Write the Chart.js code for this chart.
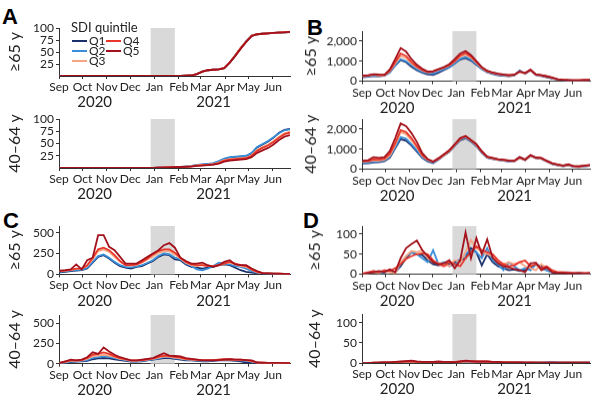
<!DOCTYPE html>
<html>
<head>
<meta charset="utf-8">
<script src="https://cdn.jsdelivr.net/npm/chart.js@4.4.1/dist/chart.umd.min.js"></script>
<style>
  body { margin:0; width:600px; height:401px; position:relative; overflow:hidden; background:#fff; font-family:Lato, sans-serif; color:#222; }
  .sub { position:absolute; }
  .letter { position:absolute; font:bold 22px "Liberation Sans", Arial, sans-serif; line-height:22px; color:#000; }
</style>
</head>
<body>
<div class="letter" style="left:2px;top:6px">A</div>
<div class="letter" style="left:307px;top:17px">B</div>
<div class="letter" style="left:3px;top:210px">C</div>
<div class="letter" style="left:303px;top:210px">D</div>
<script>
// weekly points
const weeks = ['2020-09-02','2020-09-09','2020-09-16','2020-09-23','2020-09-30','2020-10-07','2020-10-14','2020-10-21','2020-10-28',
  '2020-11-04','2020-11-11','2020-11-18','2020-11-25','2020-12-02','2020-12-09','2020-12-16','2020-12-23','2020-12-30',
  '2021-01-06','2021-01-13','2021-01-20','2021-01-27','2021-02-03','2021-02-10','2021-02-17','2021-02-24',
  '2021-03-03','2021-03-10','2021-03-17','2021-03-24','2021-03-31','2021-04-07','2021-04-14','2021-04-21','2021-04-28',
  '2021-05-05','2021-05-12','2021-05-19','2021-05-26','2021-06-02','2021-06-09','2021-06-16','2021-06-23'];
const monthStarts = ['2020-09-01','2020-10-01','2020-11-01','2020-12-01','2021-01-01','2021-02-01','2021-03-01','2021-04-01','2021-05-01','2021-06-01'];
const monthLabels = ['Sep','Oct','Nov','Dec','Jan','Feb','Mar','Apr','May','Jun'];
const yearLabels = ['2020','2021'];
const shadeFrom = '2020-12-27', shadeTo = '2021-01-27', axisEnd = '2021-06-23';
const quintiles = ['Q1','Q2','Q3','Q4','Q5'];
const legendTitle = 'SDI quintile';
const colors = ['#1b2f6b','#3b8fd8','#f6a584','#e8372a','#a3121c'];

const ticksA = [25,50,75,100];
const ticksB = [0,1000,2000];
const ticksC = [0,250,500];
const ticksD = [0,50,100];

// A, >=65 y
const A65_Q1 = [0,0,0,0,0,0,0,0,0,0, 0,0,0,0,0,0,0,0,0,0, 0,0,0, 0.5,1,4,9,12,13,14,17,28,42,58,72,84,87,88,89,90,90.5,91,91.5];
const A65_Q2 = [0,0,0,0,0,0,0,0,0,0, 0,0,0,0,0,0,0,0,0,0, 0,0,0, 0.5,1,4,9,12,13,14,17,28,43,58,72,84,87,88,89,90,90.5,91,91.5];
const A65_Q3 = [0,0,0,0,0,0,0,0,0,0, 0,0,0,0,0,0,0,0,0,0, 0,0,0, 0.5,1,4,8.5,12,13,14,17,29,43,59,72,84,87,88,89,90,90.5,91,91.5];
const A65_Q4 = [0,0,0,0,0,0,0,0,0,0, 0,0,0,0,0,0,0,0,0,0, 0,0,0, 0.5,1,4,9,12,13,14,17,28,42,57,71,84,87,88,89,90,91,91.5,92];
const A65_Q5 = [0,0,0,0,0,0,0,0,0,0, 0,0,0,0,0,0,0,0,0,0, 0,0,0, 0.5,1,4,9,12,13,14,16,28,42,57,71,83,87,88,89,90,90.5,91,92];
// A, 40-64 y
const A40_Q1 = [0,0,0,0,0,0,0,0,0,0, 0,0,0,0,0,0,0,0, 0.5,1,1.5,2,2.5,3,4,6,7,8,9,13,18,21,22,23,24,30,42,48,54,62,72,78,80];
const A40_Q2 = [0,0,0,0,0,0,0,0,0,0, 0,0,0,0,0,0,0,0, 0.5,1,1.5,2,2.5,3.5,4.5,6.5,7.5,8.5,10,14,19,22,23,24,25,31,43,49,55,63,71,77,79];
const A40_Q3 = [0,0,0,0,0,0,0,0,0,0, 0,0,0,0,0,0,0,0, 0.5,1,1.5,2,2.5,3,4,5.5,6.5,7,8,11,16,18,19,20,21,26,37,43,48,55,64,71,74];
const A40_Q4 = [0,0,0,0,0,0,0,0,0,0, 0,0,0,0,0,0,0,0, 0.5,1,1.5,2,2.5,3,3.5,5,6,6.5,7.5,10,15,17,18,19,20,25,35,41,46,53,62,69,72];
const A40_Q5 = [0,0,0,0,0,0,0,0,0,0, 0,0,0,0,0,0,0,0, 0.5,0.5,1,1.5,2,2.5,3,4.5,5,6,7,9,13,15,16,17,18,22,31,36,41,48,57,64,67];

// B, >=65 y
const B65_Q1 = [200,220,260,250,270,440,780,1050,950,720,540,420,330,310,420,560,680,880,1080,1150,1030,820,600,440,360,300,270,250,280,520,370,540,310,260,200,130,80,50,40,30,30,40,50];
const B65_Q2 = [220,240,280,260,280,450,800,1100,1000,800,600,460,400,380,480,600,700,900,1120,1200,1080,850,620,460,380,320,290,270,300,520,380,550,320,280,220,150,90,60,45,35,35,45,55];
const B65_Q3 = [250,270,320,290,300,500,880,1250,1150,880,680,530,440,470,570,660,780,980,1220,1320,1180,920,660,490,410,350,310,290,310,460,390,540,320,290,230,160,100,70,50,40,40,50,60];
const B65_Q4 = [250,280,330,300,300,520,950,1380,1250,950,720,560,450,480,580,680,800,1000,1280,1400,1230,950,680,500,420,360,320,300,320,470,400,560,330,300,240,170,100,70,50,40,40,50,60];
const B65_Q5 = [280,300,350,330,320,580,1100,1650,1480,1100,820,620,480,500,600,700,850,1100,1380,1500,1300,1000,700,520,430,370,330,300,320,480,400,570,330,300,240,180,100,70,50,40,40,50,60];
// B, 40-64 y
const B40_Q1 = [280,300,340,350,400,580,1050,1500,1420,1180,880,560,380,300,480,680,870,1170,1450,1550,1380,1150,820,570,510,460,430,390,390,570,450,670,550,520,380,260,190,150,190,120,110,140,170];
const B40_Q2 = [300,330,370,380,430,620,1100,1600,1520,1250,940,600,420,340,500,700,880,1180,1480,1580,1400,1180,840,580,520,470,440,400,400,600,460,680,560,530,390,270,200,160,200,130,120,150,180];
const B40_Q3 = [360,380,430,420,470,680,1200,1850,1750,1450,1080,660,460,370,520,700,900,1200,1500,1620,1430,1200,860,600,540,480,450,410,400,570,460,680,560,540,400,280,210,170,210,140,130,160,190];
const B40_Q4 = [380,400,480,470,520,760,1300,1950,1850,1550,1150,700,480,380,520,720,920,1220,1520,1650,1450,1230,880,610,550,490,460,420,410,580,470,690,570,550,410,290,220,170,220,150,140,170,200];
const B40_Q5 = [420,450,600,560,600,900,1550,2280,2150,1800,1360,800,500,380,550,750,950,1250,1550,1650,1450,1250,900,620,560,500,470,430,420,600,480,700,580,560,420,300,230,180,240,150,140,180,210];

// C, >=65 y
const C65_Q1 = [25,30,40,45,50,70,140,210,230,190,140,100,80,70,90,100,130,160,210,240,230,180,170,120,90,80,70,80,90,110,120,110,80,50,30,20,12,10,8,6,5,5,5];
const C65_Q2 = [30,35,45,50,55,80,150,220,240,200,150,110,90,85,95,110,140,170,220,250,240,200,180,130,100,60,50,70,100,140,130,120,100,90,70,40,20,12,10,8,6,5,5];
const C65_Q3 = [40,45,50,65,70,100,180,280,300,270,210,150,110,105,115,140,180,220,260,280,280,240,190,140,110,100,110,100,100,110,130,140,120,100,90,55,25,15,12,10,8,6,5];
const C65_Q4 = [40,45,55,70,70,110,200,300,320,290,230,160,110,110,120,150,190,240,280,300,300,260,200,150,120,110,110,100,100,110,130,150,130,110,100,60,30,15,12,10,8,6,5];
const C65_Q5 = [45,50,60,120,60,170,200,470,470,330,290,210,130,130,130,170,210,250,290,350,375,320,200,160,130,130,140,110,90,110,150,170,120,110,110,70,40,15,12,10,8,6,5];
// C, 40-64 y
const C40_Q1 = [5,10,20,25,30,35,55,65,70,65,55,45,35,25,25,30,40,50,60,70,70,60,50,40,40,35,30,30,35,40,45,40,35,30,15,10,8,8,8,8,8,8,8];
const C40_Q2 = [8,15,25,30,35,45,70,80,90,85,70,55,45,30,30,35,45,55,65,80,80,70,60,50,45,40,35,35,40,45,50,45,40,40,35,25,12,10,10,8,8,8,8];
const C40_Q3 = [10,20,35,35,40,60,90,100,110,100,80,60,50,35,35,40,50,60,75,90,85,75,65,55,50,45,40,40,45,50,55,50,45,45,40,30,15,12,10,10,8,8,8];
const C40_Q4 = [10,25,40,40,45,70,110,120,140,120,90,70,55,40,40,45,55,65,85,100,95,85,75,60,55,50,45,45,45,50,55,55,50,50,45,35,15,12,10,10,10,8,8];
const C40_Q5 = [10,30,50,40,50,80,140,120,200,150,110,80,60,40,40,50,60,70,100,130,100,95,90,70,60,50,40,40,40,45,50,55,50,50,45,40,15,12,10,10,10,8,8];

// D, >=65 y
const D65_Q1 = [0,2,5,3,5,8,5,20,40,55,50,48,35,25,22,28,25,30,35,40,65,55,22,50,30,20,15,10,12,8,10,15,25,20,10,5,3,3,2,2,2,2,2];
const D65_Q2 = [0,3,8,2,5,10,5,25,45,55,50,40,30,60,25,30,20,25,35,50,60,55,40,65,35,25,10,30,20,10,15,10,25,15,10,5,3,4,5,3,3,2,2];
const D65_Q3 = [0,2,5,3,8,5,2,30,45,58,55,60,40,30,28,25,20,35,30,55,85,65,55,50,45,30,25,30,25,30,20,15,10,25,15,8,5,5,3,3,3,2,2];
const D65_Q4 = [2,5,8,5,10,8,15,25,38,45,50,52,50,35,25,20,30,25,20,40,55,70,60,55,50,35,25,20,22,30,34,20,25,15,20,10,5,5,4,3,3,3,3];
const D65_Q5 = [0,3,5,8,5,12,5,40,65,75,84,60,45,30,25,27,35,15,34,104,40,90,50,87,41,27,20,17,13,10,5,27,29,10,17,5,3,3,2,2,3,2,3];
// D, 40-64 y
const D40_Q1 = [0,0,0,1,1,1,1,2,2,2,2,2,2,2,2,2,2,2,2,3,3,2,2,2,2,1,1,1,1,1,1,1,1,1,1,2,1,1,1,1,1,1,1];
const D40_Q2 = [0,0,0,1,1,1,2,2,3,3,2,2,2,2,2,2,2,2,3,3,3,3,2,2,2,2,1,1,1,1,1,1,1,1,2,3,2,1,1,1,1,1,1];
const D40_Q3 = [0,0,1,1,1,2,2,3,3,3,3,2,2,3,3,2,2,2,3,4,4,3,3,3,2,2,2,2,2,1,1,1,1,1,1,1,1,1,1,1,1,1,1];
const D40_Q4 = [0,0,1,1,2,2,3,3,4,4,3,3,3,3,3,3,3,3,4,5,4,4,4,4,3,3,2,2,2,2,1,2,1,1,1,1,1,1,1,1,1,1,1];
const D40_Q5 = [0,0,1,1,2,2,3,4,5,6,4,3,3,3,4,3,3,2,4,6,5,4,4,4,3,3,2,2,2,2,1,1,1,1,1,1,1,1,1,1,1,1,1];

const origin = Date.parse('2020-09-01');
const toDay = s => (Date.parse(s) - origin) / 864e5;
const days = weeks.map(toDay);
const monthDays = monthStarts.map(toDay);

// plot boxes in page pixels: left, top, right, bottom(y=0), y-axis width
const subplots = [
  {age:'≥65 y',   L:59,  T:28,    B:76,    R:290, yW:54, ymax:100,  yticks:ticksA, legend:true, series:[A65_Q1,A65_Q2,A65_Q3,A65_Q4,A65_Q5]},
  {age:'40–64 y', L:59,  T:119,   B:168,   R:290, yW:54, ymax:100,  yticks:ticksA, series:[A40_Q1,A40_Q2,A40_Q3,A40_Q4,A40_Q5]},
  {age:'≥65 y',   L:362, T:31,    B:80.5,  R:590, yW:61, ymax:2500, yticks:ticksB, series:[B65_Q1,B65_Q2,B65_Q3,B65_Q4,B65_Q5]},
  {age:'40–64 y', L:362, T:119,   B:168.5, R:590, yW:61, ymax:2500, yticks:ticksB, series:[B40_Q1,B40_Q2,B40_Q3,B40_Q4,B40_Q5]},
  {age:'≥65 y',   L:59,  T:225.6, B:274,   R:290, yW:54, ymax:580,  yticks:ticksC, series:[C65_Q1,C65_Q2,C65_Q3,C65_Q4,C65_Q5]},
  {age:'40–64 y', L:59,  T:314.6, B:363.3, R:290, yW:54, ymax:600,  yticks:ticksC, series:[C40_Q1,C40_Q2,C40_Q3,C40_Q4,C40_Q5]},
  {age:'≥65 y',   L:362, T:226.4, B:274,   R:590, yW:57, ymax:120,  yticks:ticksD, series:[D65_Q1,D65_Q2,D65_Q3,D65_Q4,D65_Q5]},
  {age:'40–64 y', L:362, T:314.2, B:363.3, R:590, yW:57, ymax:122,  yticks:ticksD, series:[D40_Q1,D40_Q2,D40_Q3,D40_Q4,D40_Q5]}
];

const shadePlugin = {
  id:'shade',
  beforeDatasetsDraw(chart){
    const {ctx, chartArea, scales:{x}} = chart;
    const x1 = x.getPixelForValue(toDay(shadeFrom)), x2 = x.getPixelForValue(toDay(shadeTo));
    ctx.save();
    ctx.fillStyle = '#d9d9d9';
    ctx.fillRect(x1, chartArea.top, x2 - x1, chartArea.bottom - chartArea.top);
    ctx.restore();
  }
};

const yearPlugin = {
  id:'years',
  afterDraw(chart){
    const {ctx, chartArea, scales:{x}} = chart;
    ctx.save();
    ctx.font = '15px Lato';
    ctx.fillStyle = '#222';
    ctx.textAlign = 'center';
    ctx.textBaseline = 'middle';
    const y = chartArea.bottom + 26.5;
    ctx.fillText(yearLabels[0], x.getPixelForValue((monthDays[0] + monthDays[3]) / 2), y);
    ctx.fillText(yearLabels[1], x.getPixelForValue((monthDays[4] + monthDays[9]) / 2), y);
    ctx.restore();
  }
};

// legend in the upper-left of the first plot, two columns
const legendPlugin = {
  id:'quintileLegend',
  afterDraw(chart){
    if (!chart.options.plugins.quintileLegend) return;
    const {ctx, chartArea} = chart;
    const x0 = chartArea.left + 12, y0 = chartArea.top;
    ctx.save();
    ctx.fillStyle = '#222';
    ctx.textBaseline = 'middle';
    ctx.font = '13px Lato';
    ctx.fillText(legendTitle, x0, y0);
    ctx.font = '12px Lato';
    const cells = [[0,0],[0,1],[0,2],[1,0],[1,1]];
    quintiles.forEach((q, i) => {
      const lx = x0 + 1 + cells[i][0] * 34, ly = y0 + 13 + cells[i][1] * 10;
      ctx.strokeStyle = colors[i];
      ctx.lineWidth = 2;
      ctx.beginPath();
      ctx.moveTo(lx, ly);
      ctx.lineTo(lx + 15, ly);
      ctx.stroke();
      ctx.fillStyle = '#222';
      ctx.fillText(q, lx + 17, ly + 0.5);
    });
    ctx.restore();
  }
};

const padTop = 8, padRight = 8, xH = 36;

function makeChart(p){
  const div = document.createElement('div');
  div.className = 'sub';
  div.style.left = (p.L - p.yW) + 'px';
  div.style.top = (p.T - padTop) + 'px';
  div.style.width = (p.yW + (p.R - p.L) + padRight) + 'px';
  div.style.height = (padTop + (p.B - p.T) + xH) + 'px';
  const canvas = document.createElement('canvas');
  div.appendChild(canvas);
  document.body.appendChild(div);

  new Chart(canvas, {
    type: 'line',
    data: {
      datasets: quintiles.map((q, i) => ({
        label: q,
        data: days.map((d, j) => ({x: d, y: p.series[i][j]})),
        borderColor: colors[i],
        borderWidth: 1.8,
        pointRadius: 0,
        tension: 0,
        order: 4 - i
      }))
    },
    options: {
      responsive: true,
      maintainAspectRatio: false,
      animation: false,
      layout: {padding: {top: padTop, right: padRight, left: 0, bottom: 0}},
      plugins: {legend: {display: false}, tooltip: {enabled: false}, quintileLegend: !!p.legend},
      scales: {
        x: {
          type: 'linear',
          min: 0,
          max: toDay(axisEnd),
          afterBuildTicks: s => { s.ticks = monthDays.map(v => ({value: v})); },
          afterFit: s => { s.height = xH; s.paddingLeft = 0; s.paddingRight = 0; },
          ticks: {
            autoSkip: false, maxRotation: 0, padding: 1,
            color: '#222', font: {family: 'Lato', size: 12},
            callback: (v, i) => monthLabels[i]
          },
          grid: {drawOnChartArea: false, tickLength: 3, color: '#333'},
          border: {color: '#333'}
        },
        y: {
          min: 0,
          max: p.ymax,
          afterBuildTicks: s => { s.ticks = p.yticks.map(v => ({value: v})); },
          afterFit: s => { s.width = p.yW; s.paddingTop = 0; s.paddingBottom = 0; },
          ticks: {
            autoSkip: false, padding: 2, color: '#222', font: {family: 'Lato', size: 12},
            callback: v => v.toLocaleString('en-US')
          },
          grid: {drawOnChartArea: false, tickLength: 3, color: '#333'},
          border: {color: '#333'},
          title: {display: true, text: p.age, color: '#222', padding: 0, font: {family: 'Lato', size: 16}}
        }
      }
    },
    plugins: [shadePlugin, yearPlugin, legendPlugin]
  });
}

subplots.forEach(makeChart);
</script>
</body>
</html>
